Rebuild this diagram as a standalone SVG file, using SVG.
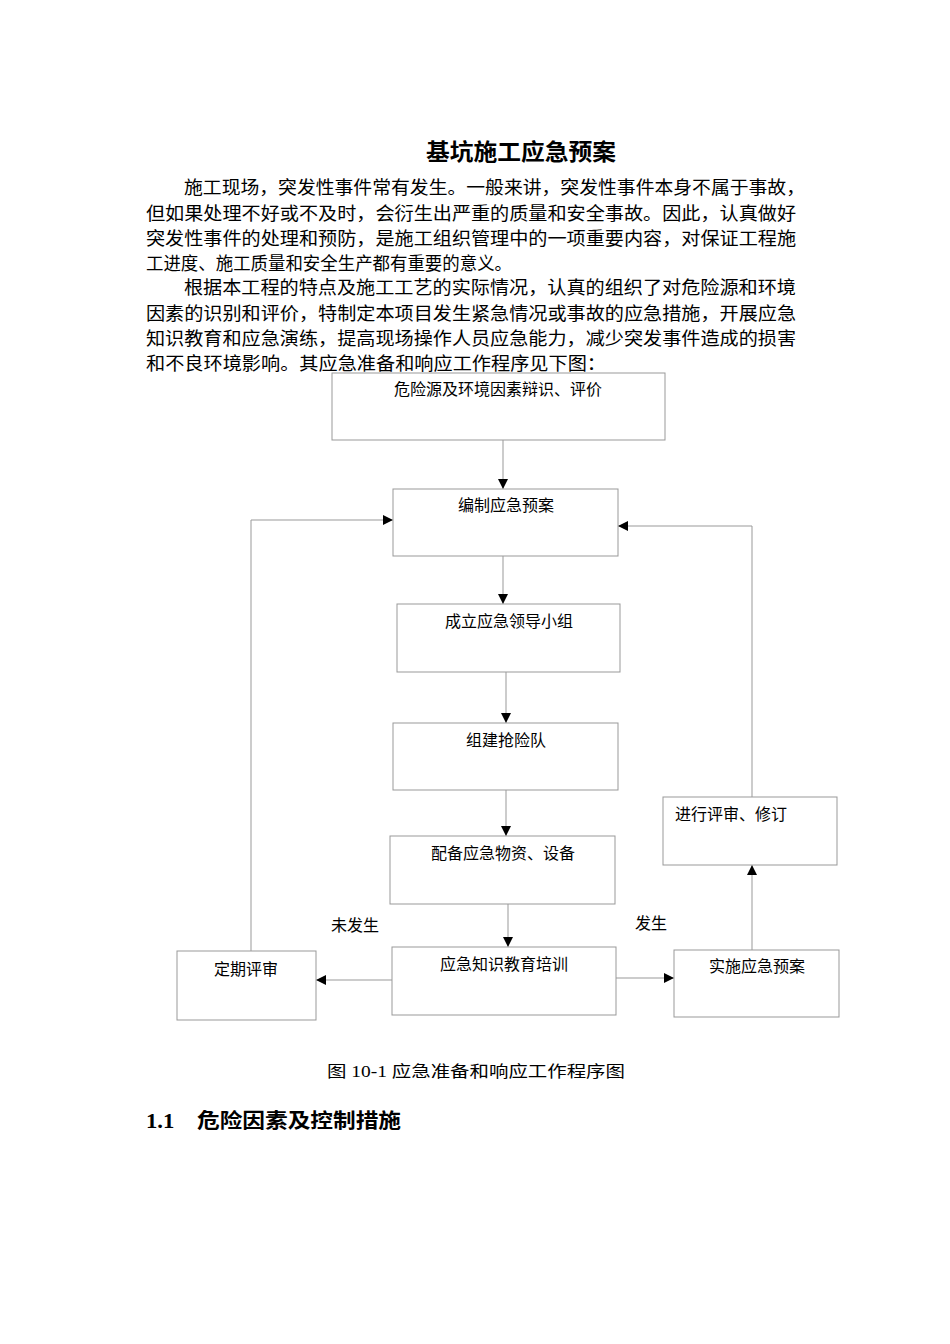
<svg xmlns="http://www.w3.org/2000/svg" width="950" height="1344" viewBox="0 0 950 1344">
<style>
text{font-family:"Liberation Serif","Noto Sans CJK SC",serif;fill:#000}
.p{font-size:18px}
.n{font-size:16px;text-anchor:middle}
.box{fill:#fff;stroke:#999;stroke-width:1}
.c{fill:none;stroke:#999;stroke-width:1}
</style>
<defs><marker id="a" viewBox="0 0 10 10" refX="10" refY="5" markerWidth="10" markerHeight="10" markerUnits="userSpaceOnUse" orient="auto"><path d="M0,0L10,5L0,10z" fill="#000"/></marker></defs>
<rect width="950" height="1344" fill="#fff"/>
<text x="426" y="160" font-size="23" font-weight="bold" textLength="190" lengthAdjust="spacingAndGlyphs">基坑施工应急预案</text>
<text class="p" x="184" y="194" textLength="621" lengthAdjust="spacingAndGlyphs">施工现场，突发性事件常有发生。一般来讲，突发性事件本身不属于事故，</text>
<text class="p" x="146" y="220" textLength="650" lengthAdjust="spacingAndGlyphs">但如果处理不好或不及时，会衍生出严重的质量和安全事故。因此，认真做好</text>
<text class="p" x="146" y="245" textLength="650" lengthAdjust="spacingAndGlyphs">突发性事件的处理和预防，是施工组织管理中的一项重要内容，对保证工程施</text>
<text class="p" x="146" y="270" textLength="366" lengthAdjust="spacingAndGlyphs">工进度、施工质量和安全生产都有重要的意义。</text>
<text class="p" x="184" y="294" textLength="612" lengthAdjust="spacingAndGlyphs">根据本工程的特点及施工工艺的实际情况，认真的组织了对危险源和环境</text>
<text class="p" x="146" y="320" textLength="650" lengthAdjust="spacingAndGlyphs">因素的识别和评价，特制定本项目发生紧急情况或事故的应急措施，开展应急</text>
<text class="p" x="146" y="345" textLength="650" lengthAdjust="spacingAndGlyphs">知识教育和应急演练，提高现场操作人员应急能力，减少突发事件造成的损害</text>
<text class="p" x="146" y="370" textLength="460" lengthAdjust="spacingAndGlyphs">和不良环境影响。其应急准备和响应工作程序见下图：</text>
<g id="connectors">
<path class="c" d="M503,440V489" marker-end="url(#a)"/>
<path class="c" d="M503,556V604" marker-end="url(#a)"/>
<path class="c" d="M506,672V723" marker-end="url(#a)"/>
<path class="c" d="M506,790V836" marker-end="url(#a)"/>
<path class="c" d="M508,904V947" marker-end="url(#a)"/>
<path class="c" d="M392,980H316" marker-end="url(#a)"/>
<path class="c" d="M616,978H674" marker-end="url(#a)"/>
<path class="c" d="M752,950V865" marker-end="url(#a)"/>
<path class="c" d="M752,797V526H618" marker-end="url(#a)"/>
<path class="c" d="M251,951V520H393" marker-end="url(#a)"/>
</g>
<g id="n1"><rect class="box" x="332" y="373" width="333" height="67"/><text class="n" x="498" y="395">危险源及环境因素辩识、评价</text></g>
<g id="n2"><rect class="box" x="393" y="489" width="225" height="67"/><text class="n" x="506" y="511">编制应急预案</text></g>
<g id="n3"><rect class="box" x="397" y="604" width="223" height="68"/><text class="n" x="509" y="627">成立应急领导小组</text></g>
<g id="n4"><rect class="box" x="393" y="723" width="225" height="67"/><text class="n" x="506" y="746">组建抢险队</text></g>
<g id="n5"><rect class="box" x="390" y="836" width="225" height="68"/><text class="n" x="503" y="859">配备应急物资、设备</text></g>
<g id="n6"><rect class="box" x="392" y="947" width="224" height="68"/><text class="n" x="504" y="970">应急知识教育培训</text></g>
<g id="n7"><rect class="box" x="177" y="951" width="139" height="69"/><text class="n" x="246" y="975">定期评审</text></g>
<g id="n8"><rect class="box" x="674" y="950" width="165" height="67"/><text class="n" x="757" y="972">实施应急预案</text></g>
<g id="n9"><rect class="box" x="663" y="797" width="174" height="68"/><text class="n" x="731" y="820">进行评审、修订</text></g>
<text class="n" x="355" y="931">未发生</text>
<text class="n" x="651" y="929">发生</text>
<text x="327" y="1077" font-size="16" textLength="298" lengthAdjust="spacingAndGlyphs">图 10-1 应急准备和响应工作程序图</text>
<text x="146" y="1128" font-size="20" font-weight="bold" textLength="255" lengthAdjust="spacingAndGlyphs">1.1　危险因素及控制措施</text>
</svg>
